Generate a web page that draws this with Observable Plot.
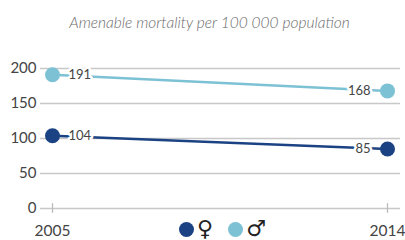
<!DOCTYPE html>
<html><head><meta charset="utf-8">
<script src="https://cdn.jsdelivr.net/npm/d3@7"></script>
<script src="https://cdn.jsdelivr.net/npm/@observablehq/plot@0.6"></script>
<style>
body{margin:0;background:#fff;font-family:Lato,"Open Sans",sans-serif;}
#wrap{position:relative;width:405px;height:240px;overflow:hidden;}
#title{height:40px;line-height:44px;text-align:center;font-style:italic;font-weight:300;font-size:15.5px;color:#6b6b6b;padding-left:14px;}
#legend{position:absolute;top:215px;left:179px;display:flex;align-items:center;color:#222;}
.dot{width:15px;height:15px;border-radius:50%;display:inline-block;margin-right:3px;}
.sym{margin-right:15px;font-family:"DejaVu Sans",sans-serif;font-size:22px;line-height:28px;}
</style></head><body>
<div id="wrap"><div id="title">Amenable mortality per 100 000 population</div><div id="chart"></div>
<div id="legend"></div></div>
<script>
const years = [2005, 2014];
const female = [104, 85];
const male = [191, 168];
const yTicks = [0, 50, 100, 150, 200];
const seriesNames = ["female", "male"];
const symbols = ["\u2640", "\u2642"];
const colors = ["#1b4282", "#7dc1d5"];

const data = [];
years.forEach((y, i) => {
  data.push({year: y, value: female[i], s: "female", i});
  data.push({year: y, value: male[i], s: "male", i});
});

const labelStyle = {x: "year", y: "value", text: d => String(d.value),
  fontSize: 13, fill: "#444", stroke: "white", strokeWidth: 5, paintOrder: "stroke"};

const chart = Plot.plot({
  width: 405, height: 200,
  marginLeft: 40, marginRight: 5, marginTop: 28, marginBottom: 32,
  insetLeft: 12, insetRight: 13,
  x: {domain: [2005, 2014]},
  y: {domain: [0, 200]},
  color: {domain: seriesNames, range: colors},
  style: {fontFamily: "Lato, 'Open Sans', sans-serif", color: "#444"},
  marks: [
    Plot.ruleY(yTicks, {stroke: "#c8c8c8", strokeWidth: 1.3}),
    Plot.ruleX(years, {x: d => d, y1: -7, y2: 7, stroke: "#bbb", strokeWidth: 1.3}),
    Plot.axisY({ticks: yTicks, tickSize: 0, tickPadding: 4, fontSize: 15, label: null, color: "#444"}),
    Plot.axisX({ticks: years, tickSize: 0, tickPadding: 16, fontSize: 15.5, label: null, tickFormat: d => String(d), color: "#444"}),
    Plot.line(data, {x: "year", y: "value", z: "s", stroke: "s", strokeWidth: 2.5}),
    Plot.text(data.filter(d => d.i === 0), {...labelStyle, textAnchor: "start", dx: 16}),
    Plot.text(data.filter(d => d.i === 1), {...labelStyle, textAnchor: "end", dx: -17}),
    Plot.dot(data, {x: "year", y: "value", fill: "s", r: 7.5})
  ]
});
document.getElementById("chart").append(chart);

const leg = document.getElementById("legend");
seriesNames.forEach((n, k) => {
  const d = document.createElement("span"); d.className = "dot"; d.style.background = colors[k];
  const s = document.createElement("span"); s.className = "sym"; s.textContent = symbols[k];
  leg.append(d, s);
});
</script></body></html>
